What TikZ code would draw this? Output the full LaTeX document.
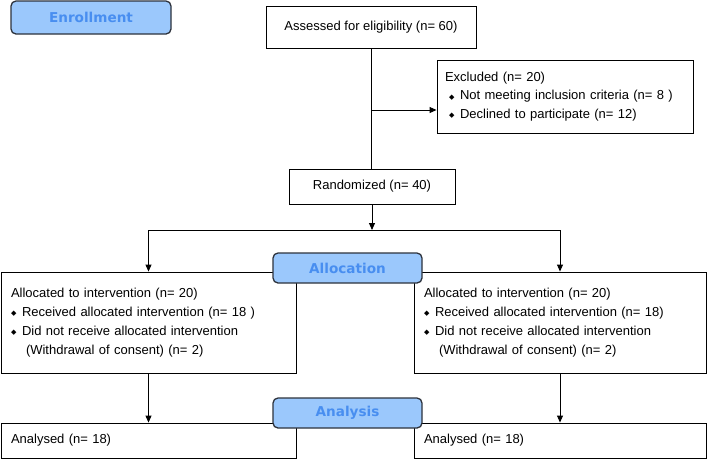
\documentclass[tikz,border=0pt]{standalone}
\usepackage{fontspec}
\setmainfont{Liberation Sans}
\newfontfamily\dejavu{DejaVu Sans}
\usetikzlibrary{arrows.meta}
\definecolor{badgefill}{RGB}{155,200,252}
\definecolor{badgetext}{RGB}{72,142,240}
\definecolor{badgeline}{RGB}{45,50,60}
\newcommand{\dbul}{\makebox[11pt][l]{\raisebox{0.8pt}{\dejavu\fontsize{7}{7}\selectfont ◆}}}
\begin{document}
\begin{tikzpicture}[x=1pt,y=-1pt,
  box/.style={draw=black, line width=0.9pt, fill=white, inner ysep=0pt},
  cbox/.style={box, inner xsep=0pt, align=center},
  lbox/.style={box, align=left},
  badge/.style={draw=badgeline, line width=1.3pt, rounded corners=5pt, fill=badgefill, text=badgetext, font=\dejavu\bfseries\fontsize{13.6}{15}\selectfont, inner sep=0pt},
  arr/.style={-{Triangle[length=7pt,width=6pt]}, line width=0.9pt},
  ln/.style={line width=0.9pt},
  font=\fontsize{13}{19}\selectfont]
\useasboundingbox (0,0) rectangle (710,459);

% boxes
\node[cbox, minimum width=210pt, minimum height=42pt] (assess) at (371,27) {Assessed for eligibility (n= 60)};
\node[lbox, inner xsep=8pt, text width=240pt, minimum height=73pt, font=\fontsize{13}{18.5}\selectfont] (excl) at (565,96.5)
  {Excluded (n= 20)\\
   \hspace*{4pt}\dbul Not meeting inclusion criteria (n= 8 )\\
   \hspace*{4pt}\dbul Declined to participate (n= 12)};
\node[cbox, minimum width=166pt, minimum height=35pt] (rand) at (372,186.5) {Randomized (n= 40)};

\node[lbox, inner xsep=10pt, text width=275pt, minimum height=101pt] (L1) at (148.5,322.5)
  {Allocated to intervention (n= 20)\\
   \dbul Received allocated intervention (n= 18 )\\
   \dbul Did not receive allocated intervention\\
   \hspace*{15pt}(Withdrawal of consent) (n= 2)};
\node[lbox, inner xsep=10pt, text width=272pt, minimum height=101pt] (R1) at (560,322.5)
  {Allocated to intervention (n= 20)\\
   \dbul Received allocated intervention (n= 18)\\
   \dbul Did not receive allocated intervention\\
   \hspace*{15pt}(Withdrawal of consent) (n= 2)};

\node[lbox, inner xsep=10pt, text width=275pt, minimum height=35pt] (L2) at (148.5,440.5) {Analysed (n= 18)};
\node[lbox, inner xsep=10pt, text width=272pt, minimum height=35pt] (R2) at (560,440.5) {Analysed (n= 18)};

% connectors
\coordinate (exj) at (371,110);
\coordinate (split) at (372,230);
\draw[ln] (assess.south) -- (assess.south |- rand.north);
\draw[arr] (exj) -- (exj -| excl.west);
\draw[arr] (rand.south) -- (split);
\draw[ln] (L1.north |- split) -- (R1.north |- split);
\draw[arr] (L1.north |- split) -- (L1.north);
\draw[arr] (R1.north |- split) -- (R1.north);
\draw[arr] (L1.south) -- (L2.north);
\draw[arr] (R1.south) -- (R2.north);

% badges
\node[badge, minimum width=160pt, minimum height=33pt] (enroll) at (91,17.5) {Enrollment};
\node[badge, minimum width=149pt, minimum height=30pt] (alloc) at (347.5,268) {Allocation};
\node[badge, minimum width=149pt, minimum height=30pt] (anal) at (347.5,413) {Analysis};
\end{tikzpicture}
\end{document}
